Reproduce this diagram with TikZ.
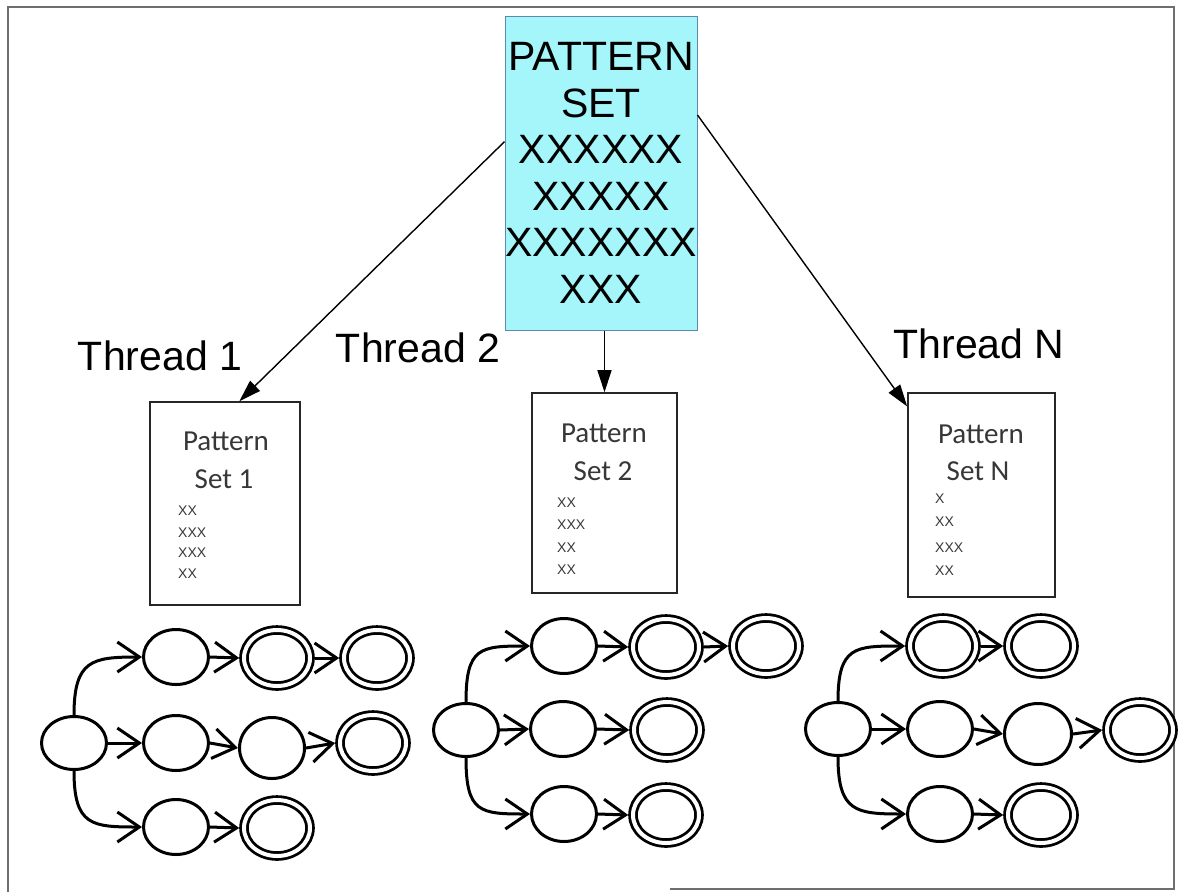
\documentclass[tikz,border=0pt]{standalone}
\usepackage{fontspec}
\setmainfont{Liberation Sans}
\newfontfamily\boxfont{Carlito}
\usetikzlibrary{shapes.geometric,arrows.meta,calc}
\definecolor{patfill}{RGB}{164,246,250}
\definecolor{patedge}{RGB}{95,135,175}
\definecolor{boxtext}{RGB}{55,55,55}
\definecolor{framecol}{RGB}{110,110,110}
\tikzset{
  patbox/.style={draw=patedge, line width=1pt, fill=patfill, minimum width=192pt, minimum height=314pt, inner sep=0pt, align=center, font=\fontsize{41}{46.5}\selectfont},
  setbox/.style={draw=black!85, line width=1.6pt, inner sep=0pt, fill=white},
  lbl/.style={font=\fontsize{41}{48}\selectfont, inner sep=0pt, anchor=base},
  ptxt/.style={font=\boxfont\fontsize{29}{30}\selectfont, text=boxtext, inner sep=0pt, anchor=base},
  xtxt/.style={font=\fontsize{14}{14}\selectfont, text=boxtext, inner sep=0pt, anchor=base west},
  st/.style={ellipse, draw, fill=white, line width=3pt, minimum width=65pt, minimum height=55pt, inner sep=0pt},
  acc/.style={ellipse, draw, fill=white, line width=2.8pt, double, double distance=4pt, minimum width=66pt, minimum height=56pt, inner sep=0pt, outer sep=4.8pt},
  tr/.style={-{Straight Barb[length=22pt,width=30pt,line width=3pt]}, line width=3pt},
  fa/.style={-{Triangle[length=22pt,width=14pt]}, line width=1.4pt},
}
\begin{document}
\begin{tikzpicture}[x=1pt,y=-1pt]
\useasboundingbox (0,0) rectangle (1180,892);
% frame
\draw[framecol, line width=2pt] (8,892) -- (8,7) -- (1174,7) -- (1174,889) -- (670,889);

% top pattern set
\node[patbox] (pat) at (601,173) {PATTERN\\SET\\XXXXXX\\XXXXX\\XXXXXXX\\XXX};

% thread labels
\node[lbl] (l1) at (160,370) {Thread 1};
\node[lbl] (l2) at (418,362) {Thread 2};
\node[lbl] (l3) at (979,358) {Thread N};

% sub pattern boxes
\node[setbox, minimum width=150pt, minimum height=203pt] (t1) at (225,503.5) {};
\node[setbox, minimum width=145pt, minimum height=200pt] (t2) at (604.5,493) {};
\node[setbox, minimum width=147pt, minimum height=204pt] (t3) at (981.5,495) {};

\node[ptxt] (p1a) at (226,450) {Pattern};
\node[ptxt] (p1b) at (224,488) {Set 1};
\node[xtxt] (x11) at (178,515) {XX};
\node[xtxt] (x12) at (178,537) {XXX};
\node[xtxt] (x13) at (178,557) {XXX};
\node[xtxt] (x14) at (178,578) {XX};

\node[ptxt] (p2a) at (604,442) {Pattern};
\node[ptxt] (p2b) at (603,480) {Set 2};
\node[xtxt] (x21) at (557,507) {XX};
\node[xtxt] (x22) at (557,529) {XXX};
\node[xtxt] (x23) at (557,552) {XX};
\node[xtxt] (x24) at (557,574) {XX};

\node[ptxt] (p3a) at (981,443) {Pattern};
\node[ptxt] (p3b) at (978,480) {Set N};
\node[xtxt] (x31) at (935,503) {X};
\node[xtxt] (x32) at (935,526) {XX};
\node[xtxt] (x33) at (935,552) {XXX};
\node[xtxt] (x34) at (935,575) {XX};

% distribution arrows
\draw[fa] (pat.162) -- (t1.82);
\draw[fa] (t2.north |- pat.south) -- (t2.north);
\draw[fa] (pat.31) -- (t3.130);

% automaton 1
\node[st, minimum height=53pt] (s1) at (74,743) {};
\node[st] (a11) at (176,657) {};
\node[acc] (a12) at (277,658) {};
\node[acc] (a13) at (377,658) {};
\node[st] (a21) at (176,743) {};
\node[st, minimum height=61pt] (a22) at (272,748) {};
\node[acc] (a23) at (373,743) {};
\node[st] (a31) at (176,827) {};
\node[acc] (a32) at (277,828) {};
\draw[tr] (s1.north) .. controls +(0,-55) and +(-50,0) .. (a11.west);
\draw[tr] (s1.east) -- (a21.west);
\draw[tr] (s1.south) .. controls +(0,55) and +(-50,0) .. (a31.west);
\draw[tr] (a11.east) -- (a12.west);
\draw[tr] (a12.east) -- (a13.west);
\draw[tr] (a21.east) -- (a22.west);
\draw[tr] (a22.east) -- (a23.west);
\draw[tr] (a31.east) -- (a32.west);

% automaton 2
\node[st, minimum height=53pt] (s2) at (466,730) {};
\node[st] (b11) at (564,646) {};
\node[acc] (b12) at (666,647) {};
\node[acc] (b13) at (766,646) {};
\node[st] (b21) at (563,729) {};
\node[acc] (b22) at (667,730) {};
\node[st] (b31) at (564,814) {};
\node[acc] (b32) at (666,815) {};
\draw[tr] (s2.north) .. controls +(0,-55) and +(-50,0) .. (b11.west);
\draw[tr] (s2.east) -- (b21.west);
\draw[tr] (s2.south) .. controls +(0,55) and +(-50,0) .. (b31.west);
\draw[tr] (b11.east) -- (b12.west);
\draw[tr] (b12.east) -- (b13.west);
\draw[tr] (b21.east) -- (b22.west);
\draw[tr] (b31.east) -- (b32.west);

% automaton N
\node[st, minimum height=53pt] (s3) at (838,729) {};
\node[acc] (c11) at (943,646) {};
\node[acc] (c12) at (1041,646) {};
\node[st] (c21) at (940,729) {};
\node[st, minimum width=67pt, minimum height=61pt] (c22) at (1038,734) {};
\node[acc] (c23) at (1140,730) {};
\node[st] (c31) at (940,814) {};
\node[acc] (c32) at (1041,815) {};
\draw[tr] (s3.north) .. controls +(0,-55) and +(-50,0) .. (c11.west);
\draw[tr] (s3.east) -- (c21.west);
\draw[tr] (s3.south) .. controls +(0,55) and +(-50,0) .. (c31.west);
\draw[tr] (c11.east) -- (c12.west);
\draw[tr] (c21.east) -- (c22.west);
\draw[tr] (c22.east) -- (c23.west);
\draw[tr] (c31.east) -- (c32.west);
\end{tikzpicture}
\end{document}
